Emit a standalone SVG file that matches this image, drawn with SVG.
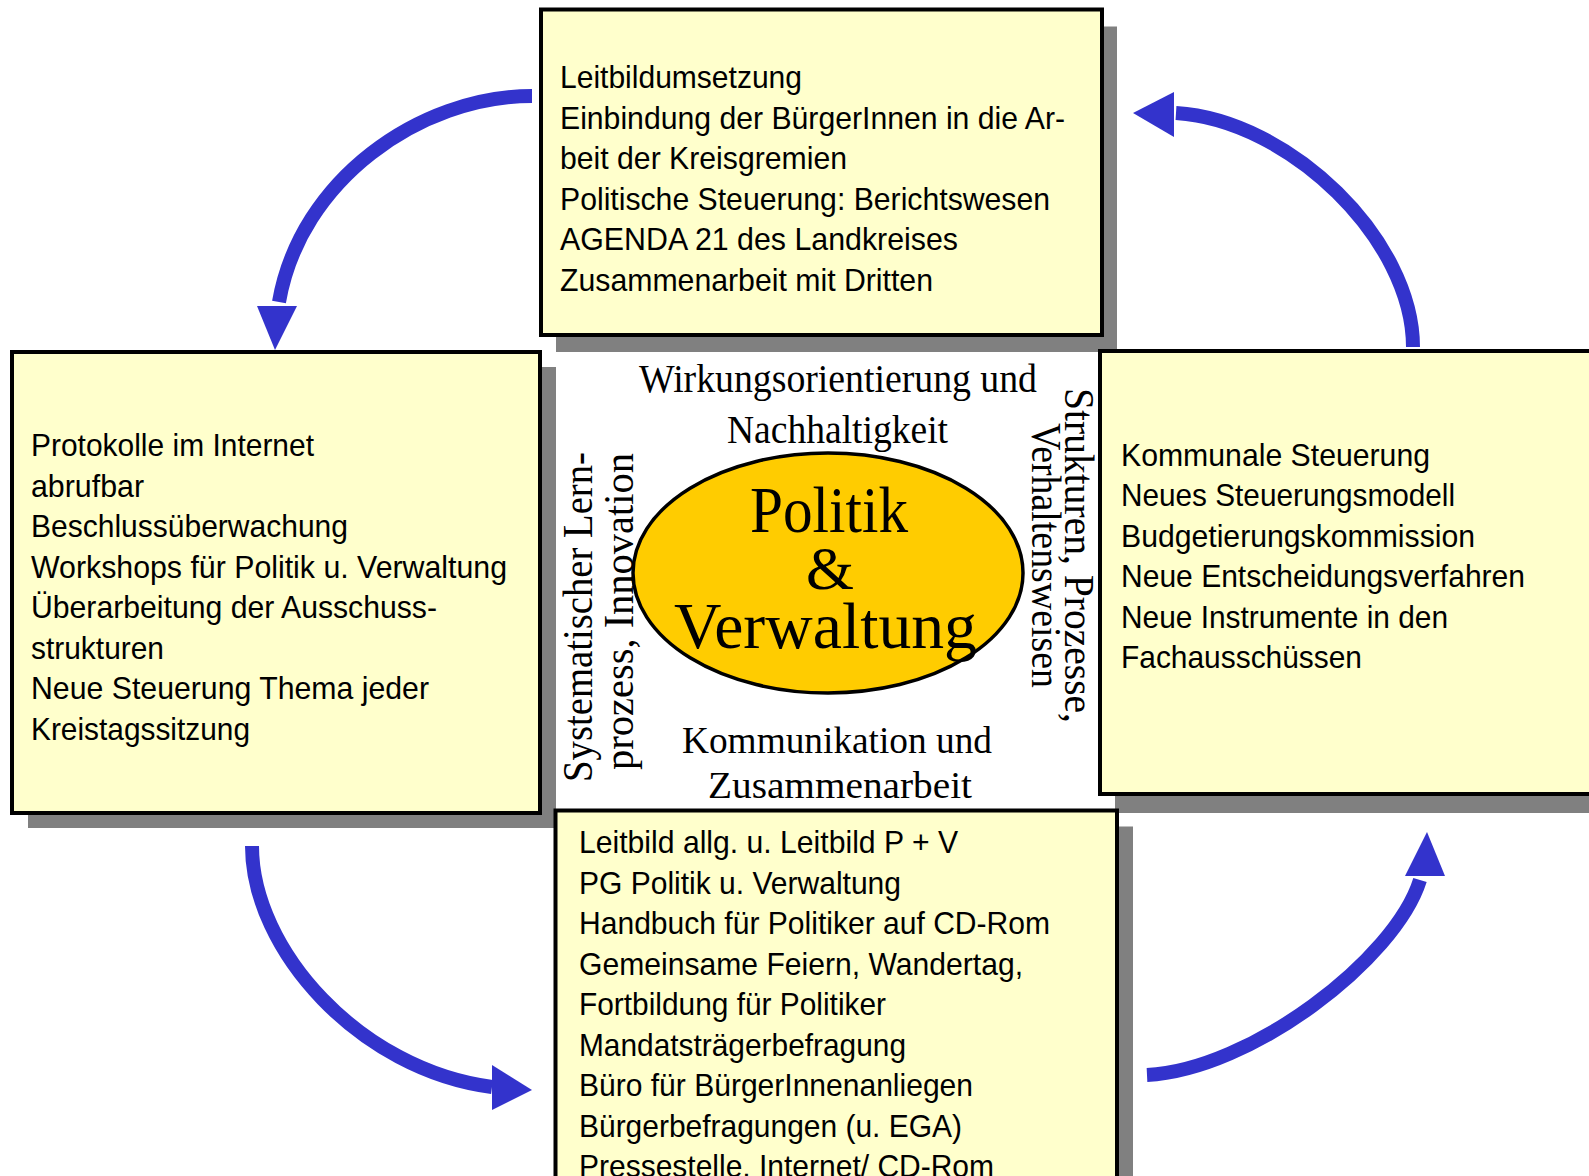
<svg xmlns="http://www.w3.org/2000/svg" width="1589" height="1176" viewBox="0 0 1589 1176">
<style>
.shadow{fill:#808080;stroke:none}
.box{fill:#FFFFCC;stroke:#000;stroke-width:4}
.bt{font-family:"Liberation Sans",Arial,sans-serif;font-size:32px;fill:#000}
.ct{font-family:"Liberation Serif","Times New Roman",serif;fill:#000}
.arc{fill:none;stroke:#3333CC;stroke-width:14}
.head{fill:#3333CC}
</style>
<rect width="1589" height="1176" fill="#fff"/>
<g id="node-top">
<rect class="shadow" x="556" y="26.5" width="561" height="325.5"/>
<rect class="box" x="541" y="9.5" width="561" height="325.5"/>
<text class="bt" x="560" y="88" textLength="242" lengthAdjust="spacingAndGlyphs">Leitbildumsetzung</text>
<text class="bt" x="560" y="128.5" textLength="505" lengthAdjust="spacingAndGlyphs">Einbindung der BürgerInnen in die Ar-</text>
<text class="bt" x="560" y="169" textLength="287" lengthAdjust="spacingAndGlyphs">beit der Kreisgremien</text>
<text class="bt" x="560" y="209.5" textLength="490" lengthAdjust="spacingAndGlyphs">Politische Steuerung: Berichtswesen</text>
<text class="bt" x="560" y="250" textLength="398" lengthAdjust="spacingAndGlyphs">AGENDA 21 des Landkreises</text>
<text class="bt" x="560" y="290.5" textLength="373" lengthAdjust="spacingAndGlyphs">Zusammenarbeit mit Dritten</text>
</g>
<g id="node-left">
<rect class="shadow" x="28" y="367" width="528" height="461"/>
<rect class="box" x="12" y="352" width="528" height="461"/>
<text class="bt" x="31" y="456" textLength="283" lengthAdjust="spacingAndGlyphs">Protokolle im Internet</text>
<text class="bt" x="31" y="496.5" textLength="113" lengthAdjust="spacingAndGlyphs">abrufbar</text>
<text class="bt" x="31" y="537" textLength="317" lengthAdjust="spacingAndGlyphs">Beschlussüberwachung</text>
<text class="bt" x="31" y="577.5" textLength="476" lengthAdjust="spacingAndGlyphs">Workshops für Politik u. Verwaltung</text>
<text class="bt" x="31" y="618" textLength="406" lengthAdjust="spacingAndGlyphs">Überarbeitung der Ausschuss-</text>
<text class="bt" x="31" y="658.5" textLength="133" lengthAdjust="spacingAndGlyphs">strukturen</text>
<text class="bt" x="31" y="699" textLength="398" lengthAdjust="spacingAndGlyphs">Neue Steuerung Thema jeder</text>
<text class="bt" x="31" y="739.5" textLength="219" lengthAdjust="spacingAndGlyphs">Kreistagssitzung</text>
</g>
<g id="node-right">
<rect class="shadow" x="1115" y="370" width="520" height="443"/>
<rect class="box" x="1100" y="351" width="520" height="443"/>
<text class="bt" x="1121" y="465.5" textLength="309" lengthAdjust="spacingAndGlyphs">Kommunale Steuerung</text>
<text class="bt" x="1121" y="506" textLength="334" lengthAdjust="spacingAndGlyphs">Neues Steuerungsmodell</text>
<text class="bt" x="1121" y="546.5" textLength="354" lengthAdjust="spacingAndGlyphs">Budgetierungskommission</text>
<text class="bt" x="1121" y="587" textLength="404" lengthAdjust="spacingAndGlyphs">Neue Entscheidungsverfahren</text>
<text class="bt" x="1121" y="627.5" textLength="327" lengthAdjust="spacingAndGlyphs">Neue Instrumente in den</text>
<text class="bt" x="1121" y="668" textLength="241" lengthAdjust="spacingAndGlyphs">Fachausschüssen</text>
</g>
<g id="node-bottom">
<rect class="shadow" x="571.5" y="826.5" width="561.5" height="400"/>
<rect class="box" x="555.5" y="810.5" width="561.5" height="400"/>
<text class="bt" x="579" y="853" textLength="379" lengthAdjust="spacingAndGlyphs">Leitbild allg. u. Leitbild P + V</text>
<text class="bt" x="579" y="893.5" textLength="322" lengthAdjust="spacingAndGlyphs">PG Politik u. Verwaltung</text>
<text class="bt" x="579" y="934" textLength="471" lengthAdjust="spacingAndGlyphs">Handbuch für Politiker auf CD-Rom</text>
<text class="bt" x="579" y="974.5" textLength="444" lengthAdjust="spacingAndGlyphs">Gemeinsame Feiern, Wandertag,</text>
<text class="bt" x="579" y="1015" textLength="307" lengthAdjust="spacingAndGlyphs">Fortbildung für Politiker</text>
<text class="bt" x="579" y="1055.5" textLength="327" lengthAdjust="spacingAndGlyphs">Mandatsträgerbefragung</text>
<text class="bt" x="579" y="1096" textLength="394" lengthAdjust="spacingAndGlyphs">Büro für BürgerInnenanliegen</text>
<text class="bt" x="579" y="1136.5" textLength="383" lengthAdjust="spacingAndGlyphs">Bürgerbefragungen (u. EGA)</text>
<text class="bt" x="579" y="1177" textLength="415" lengthAdjust="spacingAndGlyphs">Pressestelle, Internet/ CD-Rom</text>
</g>
<g id="node-center">
<text class="ct" x="639" y="392" font-size="40" textLength="398" lengthAdjust="spacingAndGlyphs">Wirkungsorientierung und</text>
<text class="ct" x="727" y="443" font-size="40" textLength="221" lengthAdjust="spacingAndGlyphs">Nachhaltigkeit</text>
<text class="ct" font-size="42" transform="translate(592,782) rotate(-90)" textLength="330" lengthAdjust="spacingAndGlyphs">Systematischer Lern-</text>
<text class="ct" font-size="42" transform="translate(633,770) rotate(-90)" textLength="317" lengthAdjust="spacingAndGlyphs">prozess, Innovation</text>
<text class="ct" font-size="42" transform="translate(1065,388) rotate(90)" textLength="335" lengthAdjust="spacingAndGlyphs">Strukturen, Prozesse,</text>
<text class="ct" font-size="42" transform="translate(1032,423) rotate(90)" textLength="265" lengthAdjust="spacingAndGlyphs">Verhaltensweisen</text>
<ellipse cx="828" cy="573" rx="195" ry="120" fill="#FFCC00" stroke="#000" stroke-width="3.5"/>
<text class="ct" x="750" y="532" font-size="65" textLength="158" lengthAdjust="spacingAndGlyphs">Politik</text>
<text class="ct" x="806" y="589" font-size="62" textLength="48" lengthAdjust="spacingAndGlyphs">&amp;</text>
<text class="ct" x="674" y="648" font-size="65" textLength="303" lengthAdjust="spacingAndGlyphs">Verwaltung</text>
<text class="ct" x="682" y="753" font-size="38" textLength="310" lengthAdjust="spacingAndGlyphs">Kommunikation und</text>
<text class="ct" x="708" y="798" font-size="38" textLength="264" lengthAdjust="spacingAndGlyphs">Zusammenarbeit</text>
</g>
<g id="connectors">
<path class="arc" d="M532,96 C420,96 300,180 279,302"/>
<polygon class="head" points="257,306 297,306 275,350"/>
<path class="arc" d="M1413,347 C1413,240 1290,120 1176,113"/>
<polygon class="head" points="1174,92 1174,137 1133,113"/>
<path class="arc" d="M252,846 C252,950 360,1070 492,1087"/>
<polygon class="head" points="492,1065 492,1110 532,1090"/>
<path class="arc" d="M1147,1075 C1250,1070 1395,960 1420,880"/>
<polygon class="head" points="1405,876 1445,876 1427,832"/>
</g>
</svg>
